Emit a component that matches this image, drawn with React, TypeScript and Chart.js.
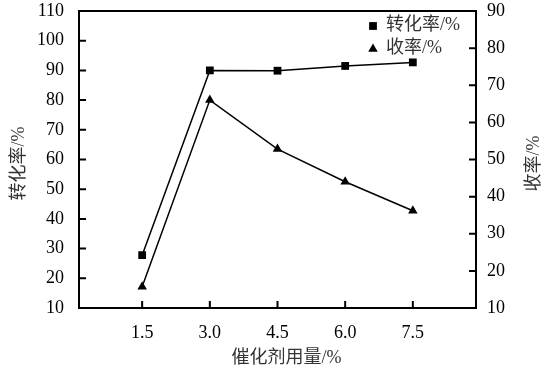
import React, { useEffect, useRef } from "react";
import { Chart, registerables } from "chart.js";

Chart.register(...registerables);

const xValues = [1.5, 3.0, 4.5, 6.0, 7.5];
const conversion = [27.8, 90.0, 89.9, 91.5, 92.7];
const yieldVals = [15.7, 66.0, 52.8, 44.0, 36.2];
const seriesLabels = ["转化率/%", "收率/%"];
const xTitle = "催化剂用量/%";
const leftTitle = "转化率/%";
const rightTitle = "收率/%";

const SERIF = "'Liberation Serif', 'Times New Roman', serif";
const CJK = "'Liberation Serif', 'Noto Sans CJK SC', serif";

function drawMarker(ctx: CanvasRenderingContext2D, style: string, x: number, y: number, r: number) {
  ctx.beginPath();
  if (style === "rect") {
    const s = Math.SQRT1_2 * r;
    ctx.rect(x - s, y - s, 2 * s, 2 * s);
  } else {
    for (let i = 0; i < 3; i++) {
      const a = (i * 2 * Math.PI) / 3;
      const px = x + Math.sin(a) * r;
      const py = y - Math.cos(a) * r;
      if (i === 0) ctx.moveTo(px, py);
      else ctx.lineTo(px, py);
    }
    ctx.closePath();
  }
  ctx.fill();
}

const framePlugin = {
  id: "frame",
  afterDraw(chart: any) {
    const ctx: CanvasRenderingContext2D = chart.ctx;
    const { left, right, top, bottom } = chart.chartArea;
    const sx = chart.scales.x;
    const sy = chart.scales.y;
    const sy1 = chart.scales.y1;
    ctx.save();
    ctx.strokeStyle = "#000";
    ctx.lineWidth = 2;
    ctx.strokeRect(left, top, right - left, bottom - top);
    ctx.beginPath();
    sy.ticks.forEach((t: any) => {
      const y = sy.getPixelForValue(t.value);
      ctx.moveTo(left, y);
      ctx.lineTo(left + 7, y);
    });
    sy1.ticks.forEach((t: any) => {
      const y = sy1.getPixelForValue(t.value);
      ctx.moveTo(right, y);
      ctx.lineTo(right - 7, y);
    });
    xValues.forEach((v) => {
      const x = sx.getPixelForValue(v);
      ctx.moveTo(x, bottom);
      ctx.lineTo(x, bottom - 7);
    });
    ctx.stroke();

    // axis titles
    ctx.fillStyle = "#333";
    ctx.font = `18px ${CJK}`;
    ctx.textAlign = "center";
    ctx.textBaseline = "middle";
    ctx.fillText(xTitle, (left + right) / 2 + 9, 358);
    ctx.save();
    ctx.translate(19, (top + bottom) / 2 + 4);
    ctx.rotate(-Math.PI / 2);
    ctx.fillText(leftTitle, 0, 0);
    ctx.restore();
    ctx.save();
    ctx.translate(534, (top + bottom) / 2 + 4);
    ctx.rotate(-Math.PI / 2);
    ctx.fillText(rightTitle, 0, 0);
    ctx.restore();

    // legend
    const styles = ["rect", "triangle"];
    const rows = [25, 48];
    ctx.textAlign = "left";
    seriesLabels.forEach((lab, i) => {
      ctx.fillStyle = "#000";
      drawMarker(ctx, styles[i], 373, rows[i] + 1, 5.5);
      ctx.fillStyle = "#333";
      ctx.fillText(lab, 386, rows[i]);
    });
    ctx.restore();
  },
};

export default function App() {
  const ref = useRef<HTMLCanvasElement>(null);
  useEffect(() => {
    document.body.style.margin = "0";
    const tickFont = { family: SERIF, size: 18 };
    const fitV = (w: number) => (s: any) => {
      s.width = w;
      s.paddingTop = 0;
      s.paddingBottom = 0;
    };
    const chart = new Chart(ref.current!, {
      type: "line",
      data: {
        datasets: [
          {
            label: seriesLabels[0],
            data: xValues.map((x, i) => ({ x, y: conversion[i] })),
            yAxisID: "y",
            borderColor: "#000",
            backgroundColor: "#000",
            borderWidth: 1.5,
            pointStyle: "rect",
            pointRadius: 5.5,
            pointBorderWidth: 0,
            tension: 0,
          },
          {
            label: seriesLabels[1],
            data: xValues.map((x, i) => ({ x, y: yieldVals[i] })),
            yAxisID: "y1",
            borderColor: "#000",
            backgroundColor: "#000",
            borderWidth: 1.5,
            pointStyle: "triangle",
            pointRadius: 5.5,
            pointBorderWidth: 0,
            tension: 0,
          },
        ],
      },
      options: {
        responsive: false,
        animation: false,
        layout: { padding: { top: 11, left: 0, right: 0, bottom: 0 } },
        plugins: { legend: { display: false }, tooltip: { enabled: false } },
        scales: {
          x: {
            type: "linear",
            min: 0.1,
            max: 8.9,
            grid: { display: false, drawTicks: false },
            border: { display: false },
            afterBuildTicks: (s: any) => {
              s.ticks = xValues.map((v) => ({ value: v }));
            },
            afterFit: (s: any) => {
              s.height = 66;
              s.paddingLeft = 0;
              s.paddingRight = 0;
            },
            ticks: {
              font: tickFont,
              color: "#000",
              padding: 14,
              maxRotation: 0,
              autoSkip: false,
              callback: (v: any) => Number(v).toFixed(1),
            },
          },
          y: {
            position: "left",
            min: 10,
            max: 110,
            grid: { display: false, drawTicks: false },
            border: { display: false },
            afterFit: fitV(79),
            ticks: { stepSize: 10, font: tickFont, color: "#000", padding: 15 },
          },
          y1: {
            position: "right",
            min: 10,
            max: 90,
            grid: { display: false, drawTicks: false },
            border: { display: false },
            afterFit: fitV(78),
            ticks: { stepSize: 10, font: tickFont, color: "#000", padding: 11 },
          },
        },
      },
      plugins: [framePlugin],
    } as any);
    return () => chart.destroy();
  }, []);
  return (
    <div style={{ width: 554, height: 374, background: "#fff" }}>
      <canvas ref={ref} width={554} height={374} style={{ display: "block" }} />
    </div>
  );
}
